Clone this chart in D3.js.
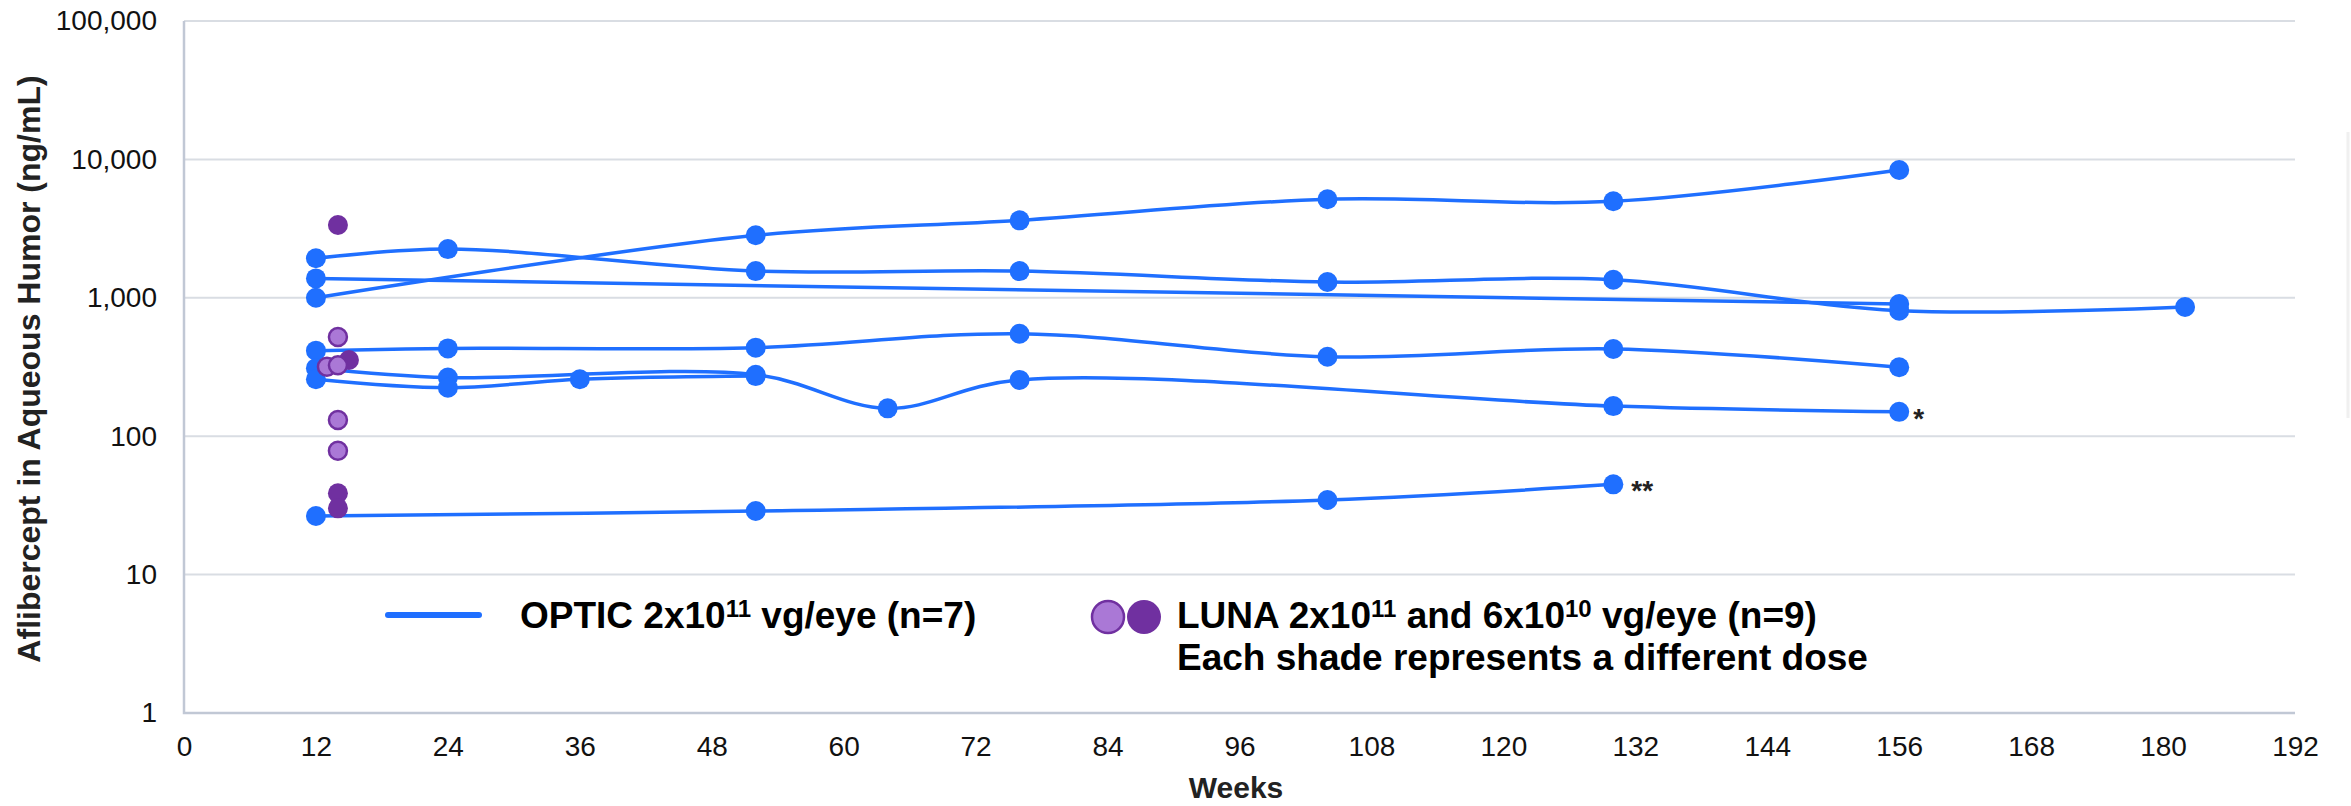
<!DOCTYPE html>
<html>
<head>
<meta charset="utf-8">
<script src="https://cdn.jsdelivr.net/npm/d3@7"></script>
<style>
  body { margin: 0; background: #fff; }
  text { font-family: "Liberation Sans", Arial, sans-serif; }
</style>
</head>
<body>
<svg id="chart" width="2351" height="806"></svg>
<script>
// tick labels
var xTicks = [0, 12, 24, 36, 48, 60, 72, 84, 96, 108, 120, 132, 144, 156, 168, 180, 192];
var yTicks = [1, 10, 100, 1000, 10000, 100000];

// OPTIC eyes: [week, ng/mL]
var eye1 = [[12, 1000], [52, 2830], [76, 3630], [104, 5150], [130, 4980], [156, 8380]];
var eye2 = [[12, 1930], [24, 2250], [52, 1560], [76, 1560], [104, 1300], [130, 1350], [156, 807], [182, 858]];
var eye3 = [[12, 1380], [156, 902]];
var eye4 = [[12, 415], [24, 431], [52, 436], [76, 550], [104, 375], [130, 427], [156, 315]];
var eye5 = [[12, 310], [24, 265], [52, 278], [64, 159], [76, 255], [130, 165], [156, 150]];
var eye6 = [[12, 258], [24, 224], [36, 258], [52, 272]];
var eye7 = [[12, 26.5], [52, 28.8], [104, 34.6], [130, 44.9]];
var opticEyes = [eye1, eye2, eye3, eye4, eye5, eye6, eye7];

// LUNA eyes, one array per shade (dose)
var lunaDark = [[14, 3360], [15, 355], [14, 38.7], [14, 30.1]];
var lunaLight = [[14, 521], [13, 318], [14, 325], [14, 131], [14, 78.5]];

var blue = "#1f6fff", purple = "#7030a0", lavender = "#aa78d6";

var svg = d3.select("#chart");
var plotL = 184, plotR = 2295, plotT = 21, plotB = 713;

var x = d3.scaleLinear().domain([0, 192]).range([plotL, plotR]);
var y = d3.scaleLog().domain([1, 100000]).range([plotB, plotT]);

/* grid */
svg.append("g").selectAll("line")
  .data(yTicks.slice(1))
  .enter().append("line")
    .attr("x1", plotL).attr("x2", plotR)
    .attr("y1", function(d) { return y(d); })
    .attr("y2", function(d) { return y(d); })
    .attr("stroke", "#d9dde3").attr("stroke-width", 2);

/* axes */
var yAxis = svg.append("g")
  .attr("transform", "translate(" + plotL + ",0)")
  .call(d3.axisLeft(y).tickValues(yTicks).tickFormat(d3.format(",")).tickSize(0).tickPadding(27));
var xAxis = svg.append("g")
  .attr("transform", "translate(0," + plotB + ")")
  .call(d3.axisBottom(x).tickValues(xTicks).tickSize(0).tickPadding(23));
[yAxis, xAxis].forEach(function(g) {
  g.select(".domain").remove();
  g.selectAll("text").attr("font-size", 28).attr("fill", "#111")
    .style("font-family", '"Liberation Sans", Arial, sans-serif');
});
svg.append("path")
  .attr("d", "M" + plotL + "," + plotT + "V" + plotB + "H" + plotR)
  .attr("fill", "none").attr("stroke", "#c1c8d5").attr("stroke-width", 2.5);

/* titles */
svg.append("text")
  .attr("transform", "translate(29,369) rotate(-90)")
  .attr("text-anchor", "middle").attr("dominant-baseline", "central")
  .attr("font-size", 32).attr("font-weight", "bold").attr("fill", "#222")
  .text("Aflibercept in Aqueous Humor (ng/mL)");
svg.append("text")
  .attr("x", 1236).attr("y", 798)
  .attr("text-anchor", "middle")
  .attr("font-size", 30).attr("font-weight", "bold").attr("fill", "#222")
  .text("Weeks");

/* OPTIC lines */
var line = d3.line()
  .x(function(d) { return x(d[0]); })
  .y(function(d) { return y(d[1]); })
  .curve(d3.curveCatmullRom.alpha(0.5));

svg.append("g").selectAll("path")
  .data(opticEyes)
  .enter().append("path")
    .attr("d", line)
    .attr("fill", "none").attr("stroke", blue).attr("stroke-width", 3.5);

svg.append("g").selectAll("circle")
  .data(d3.merge(opticEyes))
  .enter().append("circle")
    .attr("cx", function(d) { return x(d[0]); })
    .attr("cy", function(d) { return y(d[1]); })
    .attr("r", 10)
    .attr("fill", blue);

/* LUNA points */
svg.append("g").selectAll("circle")
  .data(lunaDark)
  .enter().append("circle")
    .attr("cx", function(d) { return x(d[0]); })
    .attr("cy", function(d) { return y(d[1]); })
    .attr("r", 10)
    .attr("fill", purple);
svg.append("g").selectAll("circle")
  .data(lunaLight)
  .enter().append("circle")
    .attr("cx", function(d) { return x(d[0]); })
    .attr("cy", function(d) { return y(d[1]); })
    .attr("r", 9)
    .attr("fill", lavender).attr("stroke", purple).attr("stroke-width", 2.5);

/* asterisks */
var last5 = eye5[eye5.length - 1], last7 = eye7[eye7.length - 1];
svg.append("text")
  .attr("x", x(last5[0]) + 14).attr("y", y(last5[1]) + 16)
  .attr("font-size", 28).attr("font-weight", "bold").attr("fill", "#222")
  .text("*");
svg.append("text")
  .attr("x", x(last7[0]) + 18).attr("y", y(last7[1]) + 16)
  .attr("font-size", 28).attr("font-weight", "bold").attr("fill", "#222")
  .text("**");

/* legend */
var leg = svg.append("g");
leg.append("line")
  .attr("x1", 388).attr("x2", 479).attr("y1", 615).attr("y2", 615)
  .attr("stroke", blue).attr("stroke-width", 6).attr("stroke-linecap", "round");
var t1 = leg.append("text")
  .attr("x", 520).attr("y", 628)
  .attr("font-size", 37).attr("font-weight", "bold").attr("fill", "#000");
t1.append("tspan").text("OPTIC 2x10");
t1.append("tspan").attr("font-size", 24).attr("dy", -11).text("11");
t1.append("tspan").attr("dy", 11).text(" vg/eye (n=7)");

leg.append("circle").attr("cx", 1108).attr("cy", 617).attr("r", 16)
  .attr("fill", lavender).attr("stroke", purple).attr("stroke-width", 2.5);
leg.append("circle").attr("cx", 1144).attr("cy", 617).attr("r", 17)
  .attr("fill", purple);
var t2 = leg.append("text")
  .attr("x", 1177).attr("y", 628)
  .attr("font-size", 37).attr("font-weight", "bold").attr("fill", "#000");
t2.append("tspan").text("LUNA 2x10");
t2.append("tspan").attr("font-size", 24).attr("dy", -11).text("11");
t2.append("tspan").attr("dy", 11).text(" and 6x10");
t2.append("tspan").attr("font-size", 24).attr("dy", -11).text("10");
t2.append("tspan").attr("dy", 11).text(" vg/eye (n=9)");
leg.append("text")
  .attr("x", 1177).attr("y", 670)
  .attr("font-size", 37).attr("font-weight", "bold").attr("fill", "#000")
  .text("Each shade represents a different dose");

/* faint edge at right */
svg.append("line")
  .attr("x1", 2348).attr("x2", 2348).attr("y1", 132).attr("y2", 418)
  .attr("stroke", "#f0f0f0").attr("stroke-width", 3);
</script>
</body>
</html>
